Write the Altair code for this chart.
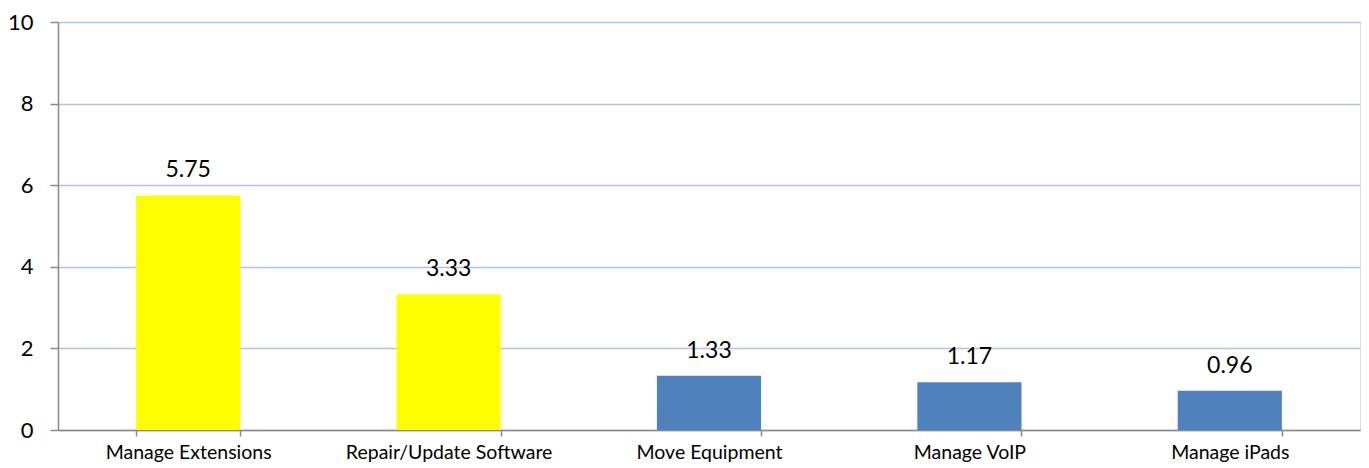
import altair as alt
import pandas as pd

categories = ["Manage Extensions", "Repair/Update Software", "Move Equipment", "Manage VoIP", "Manage iPads"]
values = [5.75, 3.33, 1.33, 1.17, 0.96]
colors = ["#FFFF00", "#FFFF00", "#4F81BD", "#4F81BD", "#4F81BD"]
labels = ["5.75", "3.33", "1.33", "1.17", "0.96"]

df = pd.DataFrame({"category": categories, "value": values, "color": colors, "label": labels})

FONT = "Lato"

x = alt.X(
    "category:N",
    sort=categories,
    title=None,
    scale=alt.Scale(paddingInner=0.6, paddingOuter=0.3),
    axis=alt.Axis(
        labelAngle=0,
        tickBand="extent",
        tickSize=6,
        tickColor="#898989",
        tickWidth=1.5,
        domainColor="#898989",
        domainWidth=1.5,
        labelFont=FONT,
        labelFontSize=19.5,
        labelColor="#000000",
        labelPadding=7,
        labelLimit=0,
        grid=False,
    ),
)
y = alt.Y(
    "value:Q",
    title=None,
    scale=alt.Scale(domain=[0, 10]),
    axis=alt.Axis(
        values=[0, 2, 4, 6, 8, 10],
        tickSize=8,
        tickColor="#898989",
        tickWidth=1.5,
        domainColor="#898989",
        domainWidth=1.5,
        gridColor="#ADC4E6",
        gridWidth=1.5,
        labelFont=FONT,
        labelFontSize=22,
        labelColor="#000000",
        labelPadding=17,
    ),
)

bars = alt.Chart(df).mark_bar().encode(x=x, y=y, color=alt.Color("color:N", scale=None))
text = alt.Chart(df).mark_text(baseline="alphabetic", dy=-18, font=FONT, fontSize=23, color="#000000").encode(
    x=alt.X("category:N", sort=categories), y="value:Q", text="label:N"
)

chart = (
    alt.layer(bars, text)
    .properties(
        width=1302,
        height=408,
        padding={"left": 50, "top": 14, "right": 1, "bottom": 38},
        autosize=alt.AutoSizeParams(type="none"),
    )
    .configure_view(stroke=None)
    .configure(background="#FFFFFF")
)

chart.save("out.html", embed_options={"renderer": "svg", "actions": False})
